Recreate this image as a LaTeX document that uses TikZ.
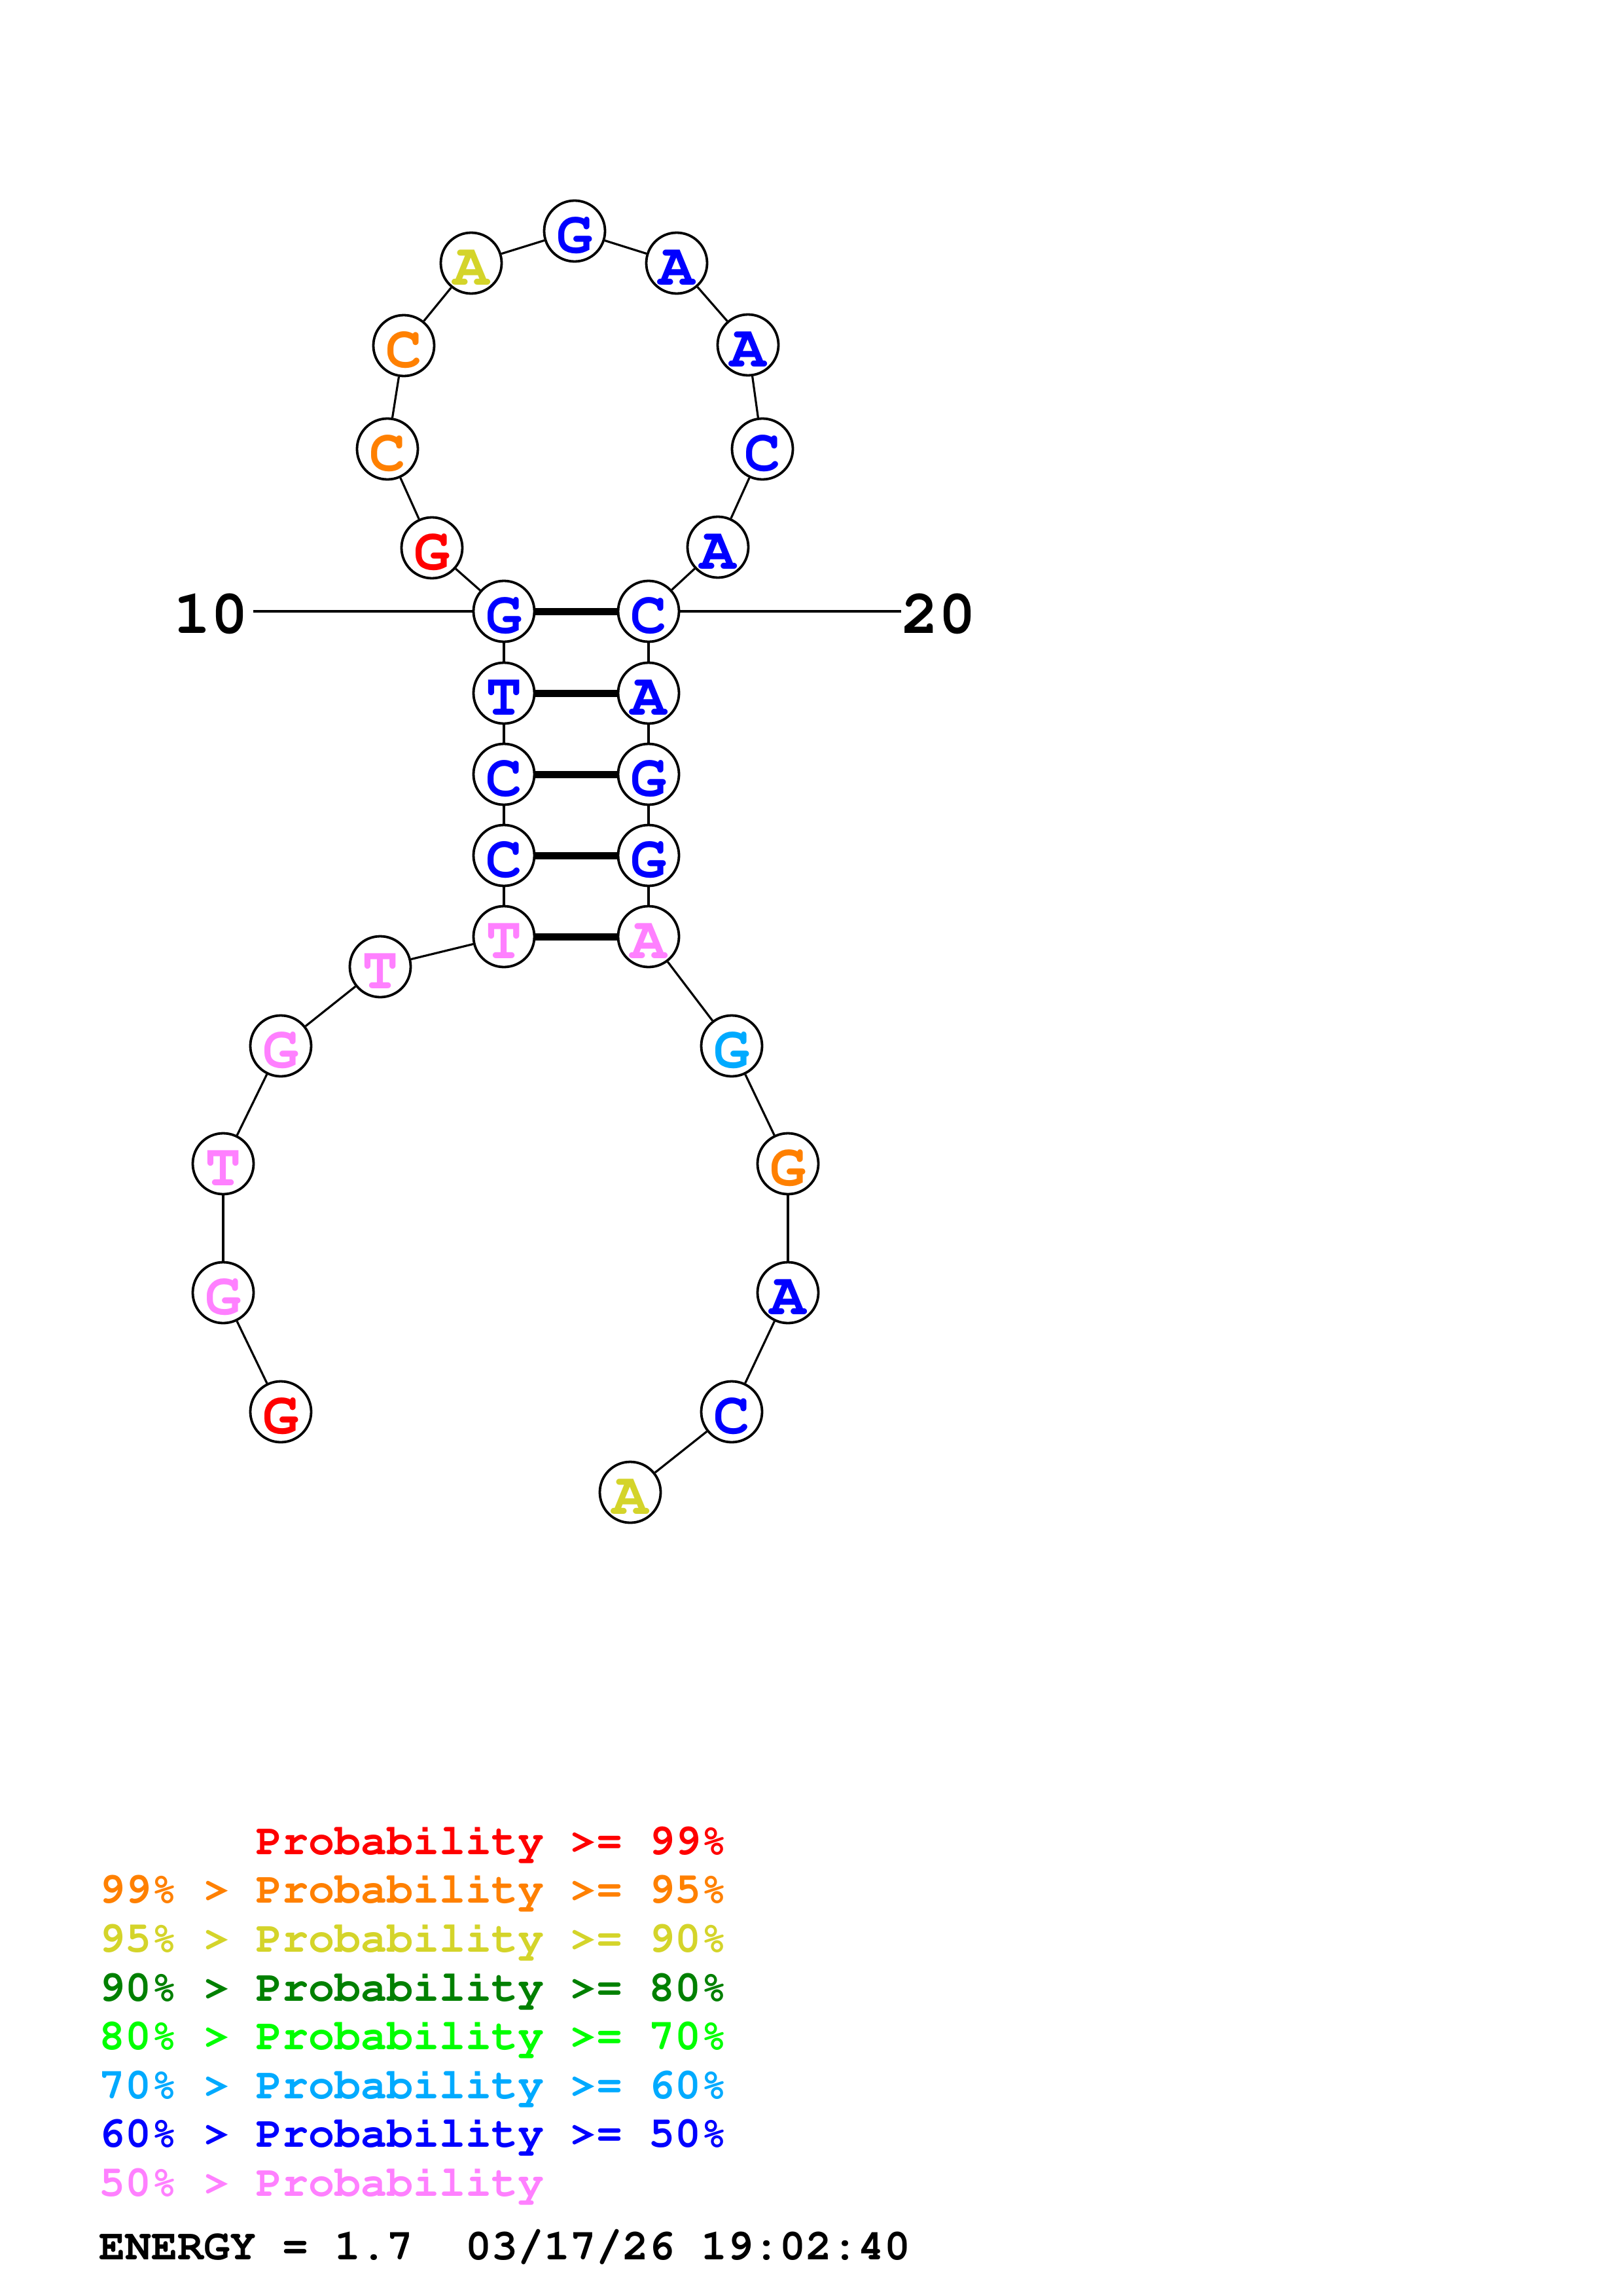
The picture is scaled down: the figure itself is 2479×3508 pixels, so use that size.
\documentclass[tikz,border=0pt]{standalone}
\usepackage[T1]{fontenc}
\definecolor{cred}{RGB}{255,0,0}
\definecolor{corange}{RGB}{255,128,0}
\definecolor{cyellow}{RGB}{212,212,42}
\definecolor{cdgreen}{RGB}{0,128,0}
\definecolor{clgreen}{RGB}{0,255,0}
\definecolor{ccyan}{RGB}{0,170,255}
\definecolor{cblue}{RGB}{0,0,255}
\definecolor{cpink}{RGB}{255,128,255}
\newcommand\basefnt{\fontfamily{pcr}\fontseries{b}\fontsize{92}{92}\selectfont}
\newcommand\labfnt{\fontfamily{pcr}\fontseries{b}\fontsize{95}{95}\selectfont}
\newcommand\legfnt{\fontfamily{pcr}\fontseries{b}\fontsize{66.7}{70}\selectfont\frenchspacing}
\tikzset{
  base/.style={circle, draw=black, line width=3.8pt, fill=white, minimum size=93pt,
    inner sep=0pt, font=\basefnt, text height=67pt, text depth=0pt, text=#1},
  bbone/.style={line width=3.2pt},
  pairbond/.style={line width=11pt},
  numlab/.style={font=\labfnt, inner sep=0pt},
  legrow/.style={anchor=base west, inner sep=0pt, font=\legfnt, text=#1}
}
\begin{document}
\begin{tikzpicture}[x=1pt,y=-1pt]
\useasboundingbox[fill=white] (0,0) rectangle (2479,3508);
% nucleotides
\node[base=cred]    (n1)  at (429,2157) {G};
\node[base=cpink]   (n2)  at (341,1975) {G};
\node[base=cpink]   (n3)  at (341,1778) {T};
\node[base=cpink]   (n4)  at (429,1598) {G};
\node[base=cpink]   (n5)  at (581,1477) {T};
\node[base=cpink]   (n6)  at (770,1431) {T};
\node[base=cblue]   (n7)  at (770,1307) {C};
\node[base=cblue]   (n8)  at (770,1183) {C};
\node[base=cblue]   (n9)  at (770,1059) {T};
\node[base=cblue]   (n10) at (770,934)  {G};
\node[base=cred]    (n11) at (660,837)  {G};
\node[base=corange] (n12) at (592,686)  {C};
\node[base=corange] (n13) at (617,528)  {C};
\node[base=cyellow] (n14) at (720,402)  {A};
\node[base=cblue]   (n15) at (878,353)  {G};
\node[base=cblue]   (n16) at (1034,402) {A};
\node[base=cblue]   (n17) at (1143,527) {A};
\node[base=cblue]   (n18) at (1165,686) {C};
\node[base=cblue]   (n19) at (1097,836) {A};
\node[base=cblue]   (n20) at (991,934)  {C};
\node[base=cblue]   (n21) at (991,1059) {A};
\node[base=cblue]   (n22) at (991,1183) {G};
\node[base=cblue]   (n23) at (991,1307) {G};
\node[base=cpink]   (n24) at (991,1431) {A};
\node[base=ccyan]   (n25) at (1118,1598) {G};
\node[base=corange] (n26) at (1204,1778) {G};
\node[base=cblue]   (n27) at (1204,1975) {A};
\node[base=cblue]   (n28) at (1118,2157) {C};
\node[base=cyellow] (n29) at (963,2280) {A};
% backbone
\foreach \a/\b in {1/2,2/3,3/4,4/5,5/6,6/7,7/8,8/9,9/10,10/11,11/12,12/13,13/14,14/15,15/16,16/17,17/18,18/19,19/20,20/21,21/22,22/23,23/24,24/25,25/26,26/27,27/28,28/29}
  \draw[bbone] (n\a) -- (n\b);
% base pairs
\foreach \a/\b in {10/20,9/21,8/22,7/23,6/24}
  \draw[pairbond] (n\a) -- (n\b);
% position labels
\node[numlab] (lab10) at (322,938) {10};
\node[numlab] (lab20) at (1434,938) {20};
\coordinate (t10) at (387,934);
\coordinate (t20) at (1377,934);
\draw[bbone] (t10) -- (n10);
\draw[bbone] (n20) -- (t20);
% legend
\node[legrow=cred]    (lg1) at (151,2833) {\hphantom{99\% > }Probability >= 99\%};
\node[legrow=corange] (lg2) at (151,2907.6) {99\% > Probability >= 95\%};
\node[legrow=cyellow] (lg3) at (151,2982) {95\% > Probability >= 90\%};
\node[legrow=cdgreen] (lg4) at (151,3057) {90\% > Probability >= 80\%};
\node[legrow=clgreen] (lg5) at (151,3131) {80\% > Probability >= 70\%};
\node[legrow=ccyan]   (lg6) at (151,3206) {70\% > Probability >= 60\%};
\node[legrow=cblue]   (lg7) at (151,3280) {60\% > Probability >= 50\%};
\node[legrow=cpink]   (lg8) at (151,3355) {50\% > Probability};
\node[legrow=black]   (energy) at (151,3452) {ENERGY = 1.7\ \ 03/17/26 19:02:40};
\end{tikzpicture}
\end{document}
